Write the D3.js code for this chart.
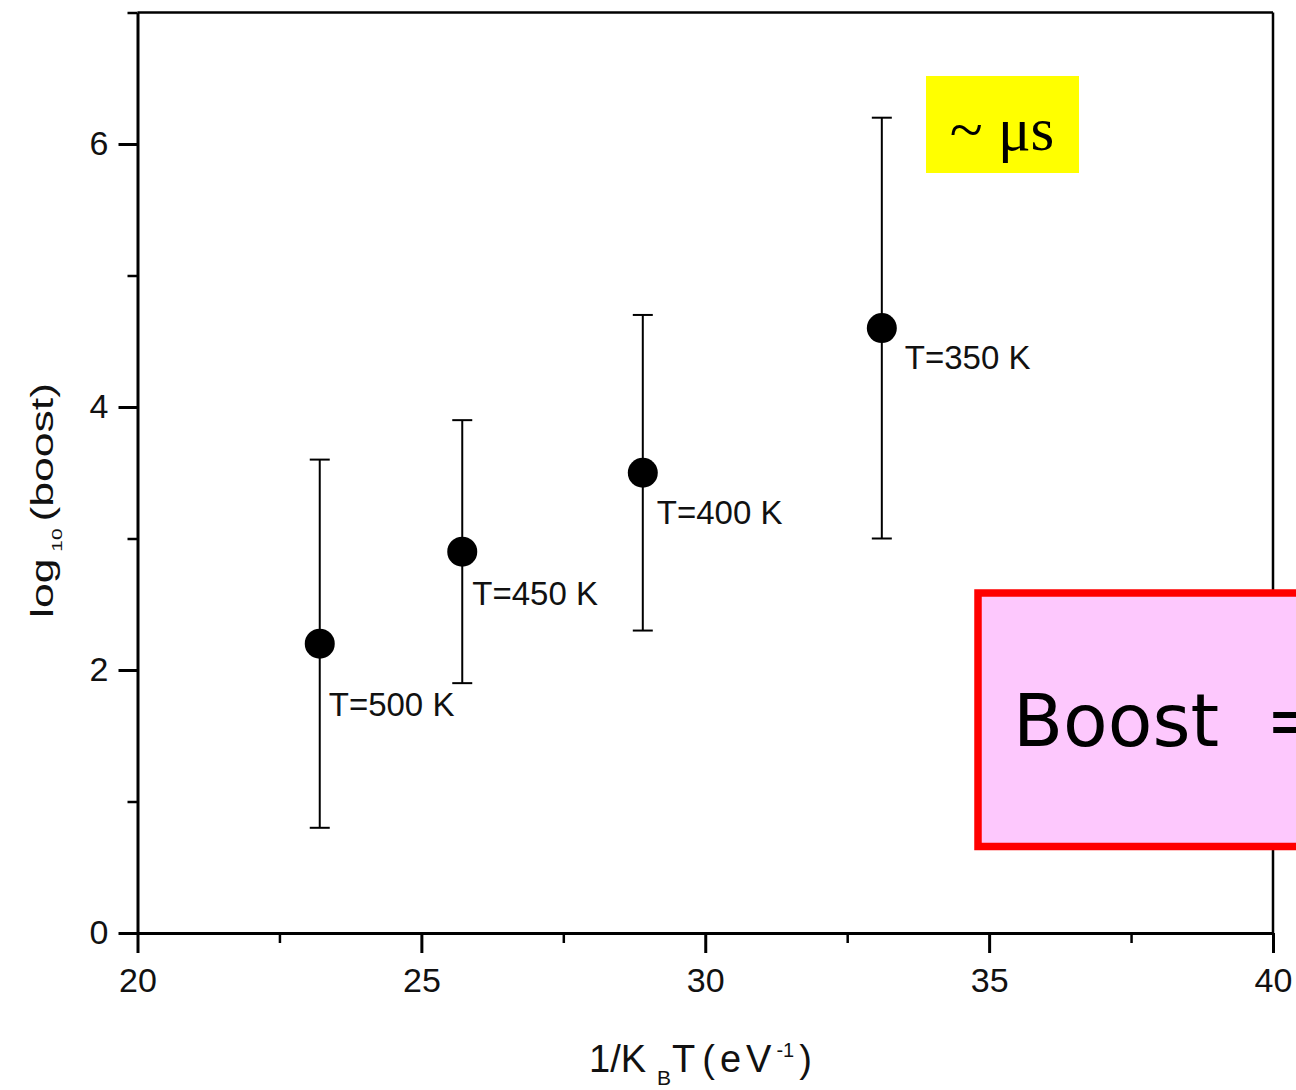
<!DOCTYPE html>
<html>
<head>
<meta charset="utf-8">
<script src="https://cdn.jsdelivr.net/npm/d3@7"></script>
<style>
  body { margin: 0; background: #fff; }
  svg { display: block; font-family: "Liberation Sans", Arial, sans-serif; }
  .axis text { font-size: 34px; fill: #111; font-family: "Liberation Sans", Arial, sans-serif; }
  .axis path, .axis line { stroke: #000; }
  .pt-label { font-size: 33px; fill: #111; }
</style>
</head>
<body>
<div class="chart"></div>
<script>
// 1/kT (eV^-1) against log10(boost), with error bars
const invKT = [23.21, 25.72, 28.90, 33.11];
const logBoost = [2.2, 2.9, 3.5, 4.6];
const errHigh = [3.6, 3.9, 4.7, 6.2];
const errLow = [0.8, 1.9, 2.3, 3.0];
const tempLabels = ["T=500 K", "T=450 K", "T=400 K", "T=350 K"];

const xMajor = [20, 25, 30, 35, 40];
const xMinor = [22.5, 27.5, 32.5, 37.5];
const yMajor = [0, 2, 4, 6];
const yMinor = [1, 3, 5, 7];

const width = 1296;
const height = 1090;
const plot = {left: 137.5, right: 1273, top: 12.5, bottom: 933};

// label nudges (px) from each point, as set on the original slide
const labelNudge = [[9, 72], [10, 53], [14, 51], [23, 41]];

let svg = d3.select(".chart").append("svg")
    .attr("width", width)
    .attr("height", height);

let x = d3.scaleLinear().domain([20, 40]).range([plot.left, plot.right]);
let y = d3.scaleLinear().domain([0, 7]).range([plot.bottom, plot.top]);

// frame (top + right)
svg.append("line")
    .attr("x1", plot.left).attr("x2", plot.right)
    .attr("y1", plot.top).attr("y2", plot.top)
    .attr("stroke", "#000").attr("stroke-width", 2.5);
svg.append("line")
    .attr("x1", plot.right).attr("x2", plot.right)
    .attr("y1", plot.top).attr("y2", plot.bottom)
    .attr("stroke", "#000").attr("stroke-width", 2.5);

// minor ticks first, then major axes on top
svg.append("g")
    .attr("class", "axis")
    .attr("transform", `translate(0,${plot.bottom})`)
    .call(d3.axisBottom(x).tickValues(xMinor).tickSize(10).tickFormat(""))
    .call(g => g.select(".domain").remove())
    .selectAll("line").attr("stroke-width", 2.5);

svg.append("g")
    .attr("class", "axis")
    .attr("transform", `translate(${plot.left},0)`)
    .call(d3.axisLeft(y).tickValues(yMinor).tickSize(10).tickFormat(""))
    .call(g => g.select(".domain").remove())
    .selectAll("line").attr("stroke-width", 2.5);

let xAxis = svg.append("g")
    .attr("class", "axis")
    .attr("transform", `translate(0,${plot.bottom})`)
    .call(d3.axisBottom(x).tickValues(xMajor).tickSize(20).tickSizeOuter(0).tickPadding(15).tickFormat(d3.format("d")));
xAxis.select(".domain").attr("stroke-width", 3);
xAxis.selectAll("line").attr("stroke-width", 3);

let yAxis = svg.append("g")
    .attr("class", "axis")
    .attr("transform", `translate(${plot.left},0)`)
    .call(d3.axisLeft(y).tickValues(yMajor).tickSize(19).tickSizeOuter(0).tickPadding(10).tickFormat(d3.format("d")));
yAxis.select(".domain").attr("stroke-width", 3);
yAxis.selectAll("line").attr("stroke-width", 3);

// error bars
let bars = svg.append("g").attr("class", "err");
const cap = 10;
invKT.forEach((v, i) => {
    const cx = x(v);
    bars.append("line")
        .attr("x1", cx).attr("x2", cx)
        .attr("y1", y(errHigh[i])).attr("y2", y(errLow[i]))
        .attr("stroke", "#000").attr("stroke-width", 2);
    [errHigh[i], errLow[i]].forEach(e => {
        bars.append("line")
            .attr("x1", cx - cap).attr("x2", cx + cap)
            .attr("y1", y(e)).attr("y2", y(e))
            .attr("stroke", "#000").attr("stroke-width", 2);
    });
});

svg.append("g")
    .selectAll("circle")
    .data(invKT)
    .join("circle")
    .attr("cx", d => x(d))
    .attr("cy", (_, i) => y(logBoost[i]))
    .attr("r", 15)
    .attr("fill", "#000");

svg.append("g")
    .selectAll("text")
    .data(tempLabels)
    .join("text")
    .attr("class", "pt-label")
    .attr("x", (_, i) => x(invKT[i]) + labelNudge[i][0])
    .attr("y", (_, i) => y(logBoost[i]) + labelNudge[i][1])
    .text(d => d);

// x axis title: 1/K_B T (eV^-1)
let xTitle = svg.append("text")
    .attr("x", 589)
    .attr("y", 1072)
    .style("font-size", "38px")
    .attr("fill", "#111");
xTitle.append("tspan").text("1/K");
xTitle.append("tspan").attr("dx", 11).attr("dy", 13).style("font-size", "21px").text("B");
xTitle.append("tspan").attr("dx", 1).attr("dy", -13).text("T");
xTitle.append("tspan").attr("dx", 7).style("letter-spacing", "5px").text("(eV");
xTitle.append("tspan").attr("dx", 0).attr("dy", -15).style("font-size", "20px").text("-1");
xTitle.append("tspan").attr("dx", 5).attr("dy", 15).text(")");

// y axis title: log10(boost), stretched like the original
let yGroup = svg.append("g");
let yTitle = yGroup.append("text")
    .attr("x", 0).attr("y", 0)
    .style("font-size", "32px")
    .attr("fill", "#111");
yTitle.append("tspan").text("log");
yTitle.append("tspan").attr("dx", 5).attr("dy", 9).style("font-size", "15px").text("10");
yTitle.append("tspan").attr("dx", 5).attr("dy", -9).text("(boost)");
const yLen = yTitle.node().getBBox().width;
yGroup.attr("transform", `translate(53,618) rotate(-90) scale(${235 / yLen},1)`);

// yellow note
svg.append("rect")
    .attr("x", 926).attr("y", 76)
    .attr("width", 153).attr("height", 97)
    .attr("fill", "#ffff00");
svg.append("text")
    .attr("x", 1002).attr("y", 150)
    .attr("text-anchor", "middle")
    .style("font-family", "'Liberation Serif', 'Times New Roman', serif")
    .style("font-size", "61px")
    .attr("fill", "#000")
    .text("~ \u03bcs");

// pink formula box, running off the right edge
svg.append("rect")
    .attr("x", 978).attr("y", 593)
    .attr("width", 500).attr("height", 253.5)
    .attr("fill", "#fdc8fd")
    .attr("stroke", "#ff0000")
    .attr("stroke-width", 7.5);
svg.append("text")
    .attr("x", 1013).attr("y", 746)
    .style("font-family", "'DejaVu Sans', Verdana, sans-serif")
    .style("font-size", "73px")
    .attr("fill", "#000")
    .text("Boost\u00a0 =");
</script>
</body>
</html>
